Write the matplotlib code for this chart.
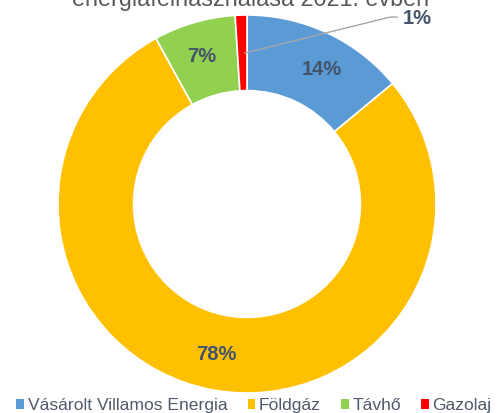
import matplotlib
matplotlib.use("Agg")
import matplotlib.pyplot as plt
from matplotlib.patches import Patch

categories = ["Vásárolt Villamos Energia", "Földgáz", "Távhő", "Gazolaj"]
values = [14, 78, 7, 1]
pct_labels = ["14%", "78%", "7%", "1%"]
colors = ["#5B9BD5", "#FFC000", "#92D050", "#FF0000"]
title = "energiafelhasználása 2021. évben"

plt.rcParams['font.family'] = ['Liberation Sans', 'DejaVu Sans']
W, H = 498, 413
fig = plt.figure(figsize=(W / 100, H / 100), dpi=100)
R = 189
cx, cy = 247, 204
ax = fig.add_axes([(cx - R) / W, (H - cy - R) / H, 2 * R / W, 2 * R / H])

wedges, _ = ax.pie(values, colors=colors, startangle=90, counterclock=False,
                   radius=1.0, wedgeprops=dict(width=0.4, edgecolor="white", linewidth=1.2))
for w in wedges:
    w.set_clip_on(False)
ax.set_xlim(-1, 1)
ax.set_ylim(-1, 1)
ax.set_aspect("equal")
ax.axis("off")

lab_color = "#44546A"
pos = [(0.397, 0.714), (-0.164, -0.794), (-0.238, 0.783)]
for (x, y), t in zip(pos, pct_labels[:3]):
    ax.text(x, y, t, ha="center", va="center", fontsize=14.5, fontweight="bold", color=lab_color)

# leader line for the small slice
ax.plot([-0.011, 0.757, 0.794], [0.799, 0.989, 0.989], color="#A6A6A6", lw=1, clip_on=False)
ax.text(0.90, 0.979, pct_labels[3], ha="center", va="center", fontsize=14.5,
        fontweight="bold", color=lab_color, clip_on=False)

fig.text(0.5025, 1 - 6 / H, title, ha="center", va="baseline", fontsize=16.8, color="#595959")

handles = [Patch(facecolor=c, edgecolor="none") for c in colors]
fig.legend(handles, categories, loc="lower center", bbox_to_anchor=(0.51, -0.005), ncol=4,
           frameon=False, fontsize=12.6, handlelength=0.45, handleheight=0.45,
           handletextpad=0.2, columnspacing=1.15, labelcolor="#505A6A", borderaxespad=0,
           borderpad=0.1)

fig.savefig("out.png", dpi=100)
